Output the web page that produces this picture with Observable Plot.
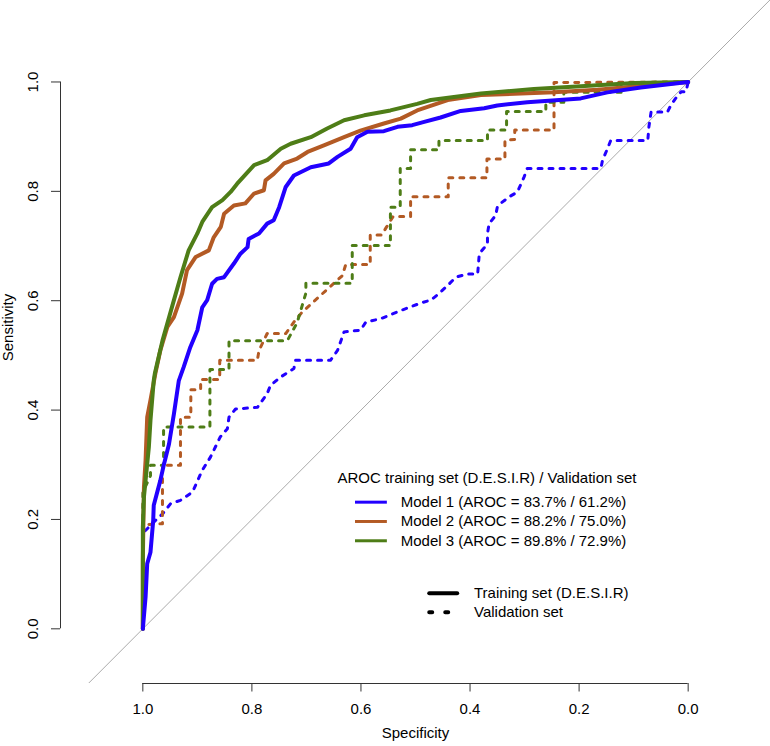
<!DOCTYPE html>
<html>
<head>
<meta charset="utf-8">
<script src="https://cdn.jsdelivr.net/npm/d3@7"></script>
<script src="https://cdn.jsdelivr.net/npm/@observablehq/plot@0.6"></script>
<style>
  html, body { margin: 0; padding: 0; background: #fff; }
</style>
</head>
<body>
<div id="chart"></div>
<script>
// ---- Data (specificity, sensitivity) ----
const xTicks = [1, 0.8, 0.6, 0.4, 0.2, 0];
const yTicks = [0, 0.2, 0.4, 0.6, 0.8, 1];
const models = ["Model 1", "Model 2", "Model 3"];
const colors = ["#2200FF", "#B35A24", "#4E7D17"];
const arocTrain = ["83.7%", "88.2%", "89.8%"];
const arocValid = ["61.2%", "75.0%", "72.9%"];
const legendTitle = "AROC training set (D.E.S.I.R) / Validation set";
const setLabels = ["Training set (D.E.S.I.R)", "Validation set"];
const xLabel = "Specificity";
const yLabel = "Sensitivity";

const m1Train = [[1,0],[0.995,0.058],[0.992,0.119],[0.986,0.14],[0.981,0.198],[0.98,0.226],[0.968,0.271],[0.961,0.302],[0.952,0.338],[0.943,0.393],[0.934,0.454],[0.925,0.479],[0.913,0.515],[0.9,0.546],[0.891,0.588],[0.882,0.601],[0.873,0.631],[0.864,0.64],[0.851,0.643],[0.833,0.668],[0.821,0.686],[0.808,0.698],[0.806,0.713],[0.787,0.723],[0.772,0.741],[0.76,0.747],[0.75,0.771],[0.738,0.808],[0.723,0.829],[0.692,0.844],[0.659,0.851],[0.643,0.863],[0.619,0.878],[0.607,0.899],[0.588,0.909],[0.558,0.91],[0.533,0.918],[0.506,0.921],[0.484,0.927],[0.454,0.935],[0.417,0.947],[0.374,0.952],[0.35,0.957],[0.295,0.963],[0.197,0.97],[0.148,0.981],[0.087,0.99],[0,1]];
const m2Train = [[1,0],[1,0.125],[0.998,0.259],[0.995,0.308],[0.992,0.387],[0.986,0.418],[0.977,0.467],[0.968,0.509],[0.955,0.552],[0.943,0.57],[0.928,0.613],[0.919,0.656],[0.903,0.68],[0.879,0.692],[0.87,0.716],[0.857,0.735],[0.851,0.759],[0.833,0.774],[0.812,0.778],[0.796,0.796],[0.778,0.802],[0.775,0.82],[0.76,0.832],[0.741,0.851],[0.717,0.86],[0.698,0.872],[0.668,0.884],[0.631,0.899],[0.601,0.911],[0.558,0.924],[0.527,0.933],[0.497,0.948],[0.441,0.967],[0.38,0.976],[0.246,0.981],[0.166,0.986],[0.074,0.994],[0,1]];
const m3Train = [[1,0],[1,0.186],[0.998,0.241],[0.995,0.271],[0.989,0.332],[0.986,0.381],[0.98,0.454],[0.978,0.467],[0.964,0.527],[0.943,0.601],[0.931,0.643],[0.916,0.692],[0.9,0.723],[0.891,0.744],[0.873,0.771],[0.854,0.784],[0.839,0.799],[0.827,0.814],[0.796,0.848],[0.772,0.857],[0.747,0.878],[0.729,0.887],[0.692,0.899],[0.662,0.915],[0.631,0.93],[0.594,0.939],[0.546,0.948],[0.497,0.96],[0.472,0.967],[0.38,0.979],[0.283,0.987],[0.197,0.992],[0.099,0.998],[0,1]];

const m1Valid = [[1,0],[1,0.175],[0.975,0.2],[0.964,0.21],[0.949,0.229],[0.931,0.235],[0.909,0.25],[0.891,0.29],[0.876,0.314],[0.858,0.351],[0.845,0.366],[0.842,0.387],[0.83,0.402],[0.79,0.405],[0.772,0.43],[0.766,0.445],[0.748,0.46],[0.723,0.476],[0.72,0.491],[0.656,0.491],[0.643,0.509],[0.631,0.543],[0.601,0.546],[0.591,0.561],[0.564,0.567],[0.527,0.582],[0.49,0.596],[0.472,0.601],[0.457,0.613],[0.441,0.628],[0.426,0.643],[0.405,0.649],[0.386,0.649],[0.383,0.686],[0.368,0.704],[0.368,0.723],[0.365,0.741],[0.353,0.756],[0.35,0.771],[0.344,0.778],[0.328,0.79],[0.313,0.799],[0.301,0.826],[0.295,0.842],[0.16,0.842],[0.157,0.857],[0.148,0.878],[0.142,0.893],[0.074,0.893],[0.072,0.918],[0.068,0.945],[0.038,0.945],[0.032,0.957],[0.023,0.97],[0.013,0.982],[0.004,0.982],[0,1]];
const m2Valid = [[1,0],[1,0.19],[0.974,0.192],[0.964,0.192],[0.964,0.299],[0.931,0.299],[0.931,0.387],[0.912,0.387],[0.912,0.437],[0.894,0.437],[0.894,0.456],[0.859,0.456],[0.859,0.491],[0.79,0.491],[0.787,0.509],[0.772,0.54],[0.738,0.54],[0.723,0.561],[0.708,0.579],[0.634,0.646],[0.628,0.666],[0.583,0.666],[0.583,0.72],[0.562,0.72],[0.553,0.735],[0.541,0.754],[0.509,0.754],[0.509,0.79],[0.44,0.79],[0.44,0.825],[0.369,0.825],[0.369,0.859],[0.336,0.859],[0.336,0.893],[0.318,0.895],[0.318,0.912],[0.246,0.912],[0.246,0.999],[0,1]];
const m3Valid = [[1,0],[1,0.25],[0.986,0.28],[0.986,0.299],[0.962,0.299],[0.962,0.369],[0.877,0.369],[0.877,0.474],[0.842,0.474],[0.842,0.527],[0.735,0.527],[0.717,0.56],[0.701,0.614],[0.701,0.632],[0.616,0.632],[0.616,0.701],[0.546,0.701],[0.546,0.771],[0.528,0.771],[0.528,0.842],[0.509,0.842],[0.509,0.876],[0.457,0.876],[0.457,0.893],[0.368,0.893],[0.368,0.912],[0.333,0.912],[0.333,0.946],[0.261,0.946],[0.261,0.963],[0.228,0.963],[0.228,0.981],[0.123,0.981],[0.123,0.997],[0,1]];

// ---- Build tables ----
const toRows = (pts, model) => pts.map(([spec, sens]) => ({model, spec, sens}));
const trainRows = [
  ...toRows(m1Train, models[0]), ...toRows(m2Train, models[1]), ...toRows(m3Train, models[2])
];
const validRows = [
  ...toRows(m1Valid, models[0]), ...toRows(m2Valid, models[1]), ...toRows(m3Valid, models[2])
];

// ---- Layout ----
const xDomain = [1.151, -0.151];
const yDomain = [-0.1, 1.149];
const diag = xDomain.map(s => ({spec: s, sens: 1 - s}));

const legX = 0.643, legY = 0.275, rowStep = 0.0353;
const legRows = models.map((m, i) => ({
  model: m,
  label: `${m} (AROC = ${arocTrain[i]} / ${arocValid[i]})`,
  sens: legY - 0.0434 - i * rowStep
}));
const setRows = setLabels.map((l, i) => ({label: l, sens: 0.0651 - i * 0.0347}));

const font = "'Liberation Sans', Arial, Helvetica, sans-serif";
const trainLine = m => Plot.line(trainRows.filter(d => d.model === m),
  {x: "spec", y: "sens", stroke: "model", strokeWidth: 4, strokeLinejoin: "round", strokeLinecap: "round"});

const chart = Plot.plot({
  width: 770,
  height: 746,
  marginLeft: 60,
  marginRight: 0,
  marginTop: 0,
  marginBottom: 63,
  style: {fontFamily: font, fontSize: "15px", background: "#fff", color: "#000"},
  x: {domain: xDomain, axis: null},
  y: {domain: yDomain, axis: null},
  color: {domain: models, range: colors},
  marks: [
    Plot.line(diag, {x: "spec", y: "sens", stroke: "#aaaaaa", strokeWidth: 1, clip: true}),
    Plot.line(validRows, {x: "spec", y: "sens", z: "model", stroke: "model", strokeWidth: 3,
      strokeDasharray: "4,7", strokeLinecap: "round", strokeLinejoin: "round"}),
    trainLine(models[1]),
    trainLine(models[2]),
    trainLine(models[0]),

    // x axis
    Plot.axisX(xTicks, {anchor: "bottom", label: null, tickSize: 8.5, tickPadding: 11,
      tickFormat: d => d.toFixed(1), stroke: "#333", fontSize: 15}),
    Plot.ruleY([yDomain[0]], {x1: d3.max(xTicks), x2: d3.min(xTicks), stroke: "#333"}),
    // y axis
    Plot.axisY(yTicks, {anchor: "left", label: null, tickSize: 9, tickFormat: () => "", stroke: "#333"}),
    Plot.ruleX([xDomain[0]], {y1: d3.min(yTicks), y2: d3.max(yTicks), stroke: "#333"}),
    Plot.text(yTicks, {x: xDomain[0], y: d => d, text: d => d.toFixed(1), rotate: -90, dx: -27,
      textAnchor: "middle", lineAnchor: "middle", fontSize: 15, fill: "#000"}),
    Plot.text([xLabel], {frameAnchor: "bottom", dy: 54, fontSize: 15, fill: "#000"}),
    Plot.text([yLabel], {x: xDomain[0], y: 0.551, dx: -52, rotate: -90,
      textAnchor: "middle", lineAnchor: "middle", fontSize: 15, fill: "#000"}),

    // legend
    Plot.text([legendTitle], {x: legX, y: legY, textAnchor: "start", fontSize: 15, fill: "#000"}),
    Plot.ruleY(legRows, {y: "sens", x1: 0.610, x2: 0.5516, stroke: "model", strokeWidth: 3}),
    Plot.text(legRows, {x: 0.527, y: "sens", text: "label", textAnchor: "start", fontSize: 15, fill: "#000"}),
    Plot.ruleY([setRows[0]], {y: "sens", x1: 0.4739, x2: 0.4226, stroke: "#000", strokeWidth: 4, strokeLinecap: "round"}),
    Plot.ruleY([setRows[1]], {y: "sens", x1: 0.4739, x2: 0.4189, stroke: "#000", strokeWidth: 4,
      strokeDasharray: "3,13", strokeLinecap: "round"}),
    Plot.text(setRows, {x: 0.3927, y: "sens", text: "label", textAnchor: "start", fontSize: 15, fill: "#000"})
  ]
});
document.getElementById("chart").appendChild(chart);
</script>
</body>
</html>
